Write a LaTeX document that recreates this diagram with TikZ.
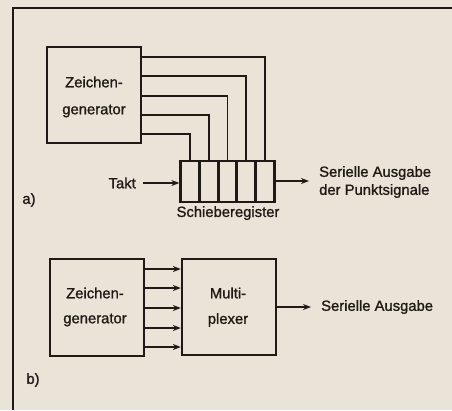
\documentclass[tikz,border=0pt]{standalone}
\usepackage{fontspec}
\setmainfont{Liberation Sans}[FakeBold=1.2]
\usetikzlibrary{arrows.meta}
\definecolor{paper}{HTML}{E9E3D8}
\definecolor{ink}{HTML}{1E1A16}
\begin{document}
\begin{tikzpicture}[x=1pt,y=-1pt,
  box/.style={draw=ink,line width=2.3pt,inner sep=0pt},
  wire/.style={draw=ink,line width=1.6pt},
  arr/.style={wire,-{Stealth[length=8pt,width=6pt]}},
  lbl/.style={text=ink,font=\fontsize{14.8}{17}\selectfont,inner sep=0pt}]
\fill[paper] (0,0) rectangle (452,410);
\useasboundingbox (0,0) rectangle (452,410);
% frame
\draw[ink,line width=2pt] (13,410) -- (13,8) -- (452,8);
% ---- a)
\node[box,minimum width=94pt,minimum height=96pt] (zg) at (94,95) {};
\node[lbl] (zgt1) at (94,82) {Zeichen-};
\node[lbl] (zgt2) at (94,111) {generator};
\foreach \i/\xx in {1/190,2/209,3/227.5,4/246,5/265}{
  \node[box,minimum width=19pt,minimum height=41pt] (c\i) at (\xx,181.5) {};
}
\foreach \i/\yy in {5/57,4/76,3/96,2/115,1/134}{
  \coordinate (p\i) at (zg.east |- 0,\yy);
  \draw[wire] (p\i) -| (c\i.north);
}
\node[lbl,anchor=east] (takt) at (136,183) {Takt};
\coordinate (tk) at (143,183);
\draw[arr] (tk) -- (c1.west |- tk);
\node[lbl,anchor=north] (sr) at (228,206) {Schieberegister};
\node[lbl,anchor=west,align=left] (out1) at (319,182) {Serielle Ausgabe\\[1pt]der Punktsignale};
\draw[arr] (c5.east |- 0,181) -- (309,181);
\node[lbl] (la) at (29,200) {a)};
% ---- b)
\node[box,minimum width=94pt,minimum height=97pt] (zg2) at (97,307.5) {};
\node[lbl] (zgb1) at (95,293) {Zeichen-};
\node[lbl] (zgb2) at (95,320) {generator};
\node[box,minimum width=94pt,minimum height=96pt] (mx) at (229,307) {};
\node[lbl] (mx1) at (228,293) {Multi-};
\node[lbl] (mx2) at (228,320) {plexer};
\foreach \yy in {269,288,308,328,347}{
  \draw[arr] (zg2.east |- 0,\yy) -- (mx.west |- 0,\yy);
}
\draw[arr] (mx.east) -- (311,307);
\node[lbl,anchor=west] (out2) at (321,307) {Serielle Ausgabe};
\node[lbl] (lb) at (33,380) {b)};
\end{tikzpicture}
\end{document}
